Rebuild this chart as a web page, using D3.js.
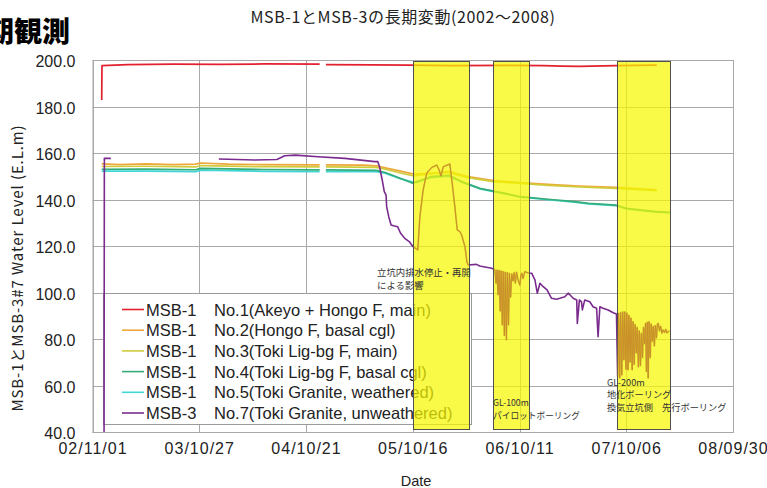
<!DOCTYPE html>
<html>
<head>
<meta charset="utf-8">
<script src="https://cdn.jsdelivr.net/npm/d3@7"></script>
<style>
  body { margin: 0; background: #fff; }
  svg { display: block; }
</style>
</head>
<body>
<svg id="chart" width="767" height="488"></svg>
<script>
// ---- data -------------------------------------------------------------
const tickDates  = ["2002-11-01", "2003-10-27", "2004-10-21", "2005-10-16", "2006-10-11", "2007-10-06", "2008-09-30"];
const tickLabels = ["02/11/01", "03/10/27", "04/10/21", "05/10/16", "06/10/11", "07/10/06", "08/09/30"];
const yTicks = [40, 60, 80, 100, 120, 140, 160, 180, 200];

const seriesNames = ["MSB-1", "MSB-1", "MSB-1", "MSB-1", "MSB-1", "MSB-3"];
const seriesDesc = [
  "No.1(Akeyo + Hongo F, main)",
  "No.2(Hongo F, basal cgl)",
  "No.3(Toki Lig-bg F, main)",
  "No.4(Toki Lig-bg F, basal cgl)",
  "No.5(Toki Granite, weathered)",
  "No.7(Toki Granite, unweathered)"
];

// work periods (shaded)
const bands = [
  ["2005-10-16", "2006-04-23"],
  ["2006-07-12", "2006-11-11"],
  ["2007-09-04", "2008-03-02"]
];

const no1 = [
  ["2002-12-02",182.8],["2002-12-03",197.6],["2003-03-01",198.0],["2003-08-01",198.2],["2004-01-01",198.1],
  ["2004-06-01",198.3],["2004-12-06",198.2],["2004-12-07",null],["2004-12-26",null],["2004-12-27",198.0],
  ["2005-06-01",197.9],["2005-10-01",197.8],["2006-03-01",197.6],["2006-09-01",197.7],["2007-01-01",197.6],
  ["2007-03-01",197.4],["2007-05-01",197.3],["2007-09-01",197.6],["2008-01-17",197.8]
];
const no2 = [
  ["2002-12-02",155.3],["2003-02-01",155.0],["2003-05-01",155.3],["2003-08-01",155.0],["2003-10-15",155.2],
  ["2003-11-01",155.7],["2004-02-01",155.2],["2004-06-01",155.0],["2004-12-06",154.9],["2004-12-07",null],
  ["2004-12-26",null],["2004-12-27",154.9],["2005-05-01",154.8],["2005-06-15",154.5],["2005-07-15",153.6],
  ["2005-09-01",152.3],["2005-10-16",151.0],["2005-11-15",151.0],["2006-01-01",151.5],["2006-02-15",152.0],
  ["2006-04-15",150.0],["2006-07-15",148.1],["2006-10-15",147.3],["2007-01-15",146.5],["2007-05-01",145.8],
  ["2007-09-01",145.2],["2008-01-17",144.1]
];
const no3 = [
  ["2002-12-02",154.2],["2003-05-01",154.3],["2003-10-15",154.0],["2003-11-01",154.6],["2004-06-01",154.1],
  ["2004-12-06",154.0],["2004-12-07",null],["2004-12-26",null],["2004-12-27",154.0],["2005-06-15",153.8],
  ["2005-07-15",153.0],["2005-09-01",151.5],["2005-10-16",150.2],["2005-11-15",150.6],["2006-01-01",151.2],
  ["2006-02-15",151.6],["2006-04-15",149.5],["2006-07-15",147.7],["2006-10-15",146.9],["2007-01-15",146.1],
  ["2007-05-01",145.4],["2007-09-01",144.8],["2008-01-17",143.8]
];
const no4 = [
  ["2002-12-02",153.0],["2003-05-01",153.1],["2003-10-15",152.8],["2003-11-01",153.4],["2004-06-01",152.9],
  ["2004-12-06",152.7],["2004-12-07",null],["2004-12-26",null],["2004-12-27",152.7],["2005-06-15",152.5],
  ["2005-07-15",151.6],["2005-08-15",150.1],["2005-10-16",147.0],["2005-10-30",147.7],["2005-12-15",149.8],
  ["2006-02-15",150.4],["2006-03-30",147.7],["2006-05-30",144.8],["2006-07-25",143.4],["2006-10-15",141.2],
  ["2007-01-15",140.1],["2007-04-15",139.1],["2007-06-01",138.3],["2007-09-01",137.6],["2007-10-05",136.2],
  ["2008-01-15",134.8],["2008-03-01",134.5]
];
const no5 = [
  ["2002-12-02",152.2],["2003-05-01",152.2],["2003-10-15",152.0],["2003-11-01",152.6],["2004-06-01",152.1],
  ["2004-12-06",152.0],["2004-12-07",null],["2004-12-26",null],["2004-12-27",152.0],["2005-06-15",152.0],
  ["2005-07-15",151.3],["2005-09-01",149.1],["2005-10-16",147.5],["2005-10-30",147.3],["2005-12-15",149.4],
  ["2006-02-15",150.0],["2006-03-30",147.4],["2006-05-30",144.6],["2006-07-25",143.2],["2006-10-15",141.0],
  ["2007-01-15",139.9],["2007-04-15",138.9],["2007-06-01",138.1],["2007-09-01",137.4],["2007-10-05",136.0],
  ["2008-01-15",134.6],["2008-03-01",134.3]
];
const no7 = [
  ["2002-12-10",40.0],["2002-12-11",157.7],["2003-01-02",157.7],["2003-01-03",null],["2003-12-31",null],
  ["2004-01-01",157.4],["2004-03-01",157.2],["2004-05-01",157.0],["2004-07-15",157.2],["2004-08-10",158.8],
  ["2004-09-15",159.1],["2004-12-01",158.4],["2005-03-01",157.7],["2005-06-10",156.3],["2005-06-20",156.3],
  ["2005-06-26",154.1],["2005-07-05",148.4],["2005-07-12",143.4],["2005-07-18",141.9],["2005-07-20",136.9],
  ["2005-07-27",132.6],["2005-08-04",129.0],["2005-08-15",128.6],["2005-08-26",128.3],["2005-09-05",125.5],
  ["2005-09-19",123.3],["2005-10-04",121.9],["2005-10-17",119.7],
  // pumping stop / restart
  ["2005-11-02",118.3],["2005-11-09",132.6],["2005-11-20",144.0],["2005-12-02",151.3],["2005-12-19",153.8],
  ["2006-01-05",154.8],["2006-01-13",152.7],["2006-01-19",150.1],["2006-01-27",154.1],["2006-02-18",155.3],
  ["2006-02-26",147.0],["2006-03-07",136.9],["2006-03-15",126.9],["2006-03-24",126.2],["2006-03-30",124.7],
  ["2006-04-10",119.7],["2006-04-17",113.0],
  ["2006-04-21",111.8],["2006-05-19",112.1],["2006-05-30",111.4],["2006-07-09",110.4],
  // GL-100m pilot boring
  ["2006-07-13",110.2],["2006-07-20",109.8],["2006-07-24",104.0],["2006-07-27",109.7],["2006-07-31",99.0],
  ["2006-08-03",109.5],["2006-08-07",92.0],["2006-08-10",109.3],["2006-08-14",86.0],["2006-08-17",109.0],
  ["2006-08-21",81.5],["2006-08-24",108.8],["2006-08-28",79.6],["2006-08-31",108.6],["2006-09-04",86.0],
  ["2006-09-07",108.3],["2006-09-11",98.0],["2006-09-15",108.0],["2006-09-19",105.0],["2006-09-23",108.6],
  ["2006-09-27",104.0],["2006-10-01",108.8],["2006-10-06",105.5],["2006-10-12",103.2],["2006-10-16",107.5],
  ["2006-10-19",108.3],["2006-10-23",106.0],["2006-10-29",109.0],["2006-11-05",108.6],["2006-11-10",108.4],
  ["2006-11-21",108.3],["2006-12-02",105.4],["2006-12-10",99.7],["2006-12-19",104.0],["2006-12-30",102.5],
  ["2007-01-12",101.1],["2007-01-21",98.9],["2007-01-27",97.5],["2007-02-13",97.1],["2007-02-24",97.5],
  ["2007-03-13",98.2],["2007-03-24",99.7],["2007-03-30",99.0],["2007-04-10",97.5],["2007-04-22",96.8],
  ["2007-04-24",86.7],["2007-05-01",96.8],["2007-05-08",96.0],["2007-05-11",92.5],["2007-05-19",96.8],
  ["2007-06-05",96.0],["2007-06-16",93.9],["2007-06-28",93.2],["2007-07-03",81.0],["2007-07-09",93.9],
  ["2007-07-20",93.2],["2007-08-06",92.5],["2007-08-23",91.3],["2007-09-03",90.8],
  // GL-200m boring
  ["2007-09-07",64.0],["2007-09-10",91.1],["2007-09-14",63.2],["2007-09-17",91.4],["2007-09-21",64.5],
  ["2007-09-24",91.7],["2007-09-28",71.0],["2007-10-01",91.7],["2007-10-05",67.0],["2007-10-08",91.2],
  ["2007-10-12",66.7],["2007-10-15",90.2],["2007-10-19",70.0],["2007-10-22",89.0],["2007-10-26",66.7],
  ["2007-10-29",87.5],["2007-11-02",69.0],["2007-11-05",86.2],["2007-11-09",74.0],["2007-11-12",85.0],
  ["2007-11-16",68.0],["2007-11-19",83.5],["2007-11-23",68.5],["2007-11-26",82.4],["2007-11-30",72.0],
  ["2007-12-03",85.0],["2007-12-07",78.0],["2007-12-10",86.7],["2007-12-13",66.0],["2007-12-16",87.2],
  ["2007-12-19",63.2],["2007-12-22",87.5],["2007-12-26",72.0],["2007-12-29",86.5],["2008-01-02",79.0],
  ["2008-01-05",85.5],["2008-01-09",77.0],["2008-01-12",85.8],["2008-01-16",80.5],["2008-01-19",86.4],
  ["2008-01-22",86.7],["2008-01-26",83.5],["2008-01-30",85.5],["2008-02-03",82.5],["2008-02-07",83.9],
  ["2008-02-12",82.8],["2008-02-16",84.2],["2008-02-20",82.6],["2008-02-24",83.1],["2008-02-28",83.5]
];

const seriesData = [no1, no2, no3, no4, no5, no7];
const seriesColors = ["#e3202e", "#eea83a", "#cfcc3c", "#36ac78", "#3fd6d6", "#7a2b8e"];
// drawing order: cyan under green, purple last
const drawOrder = [0, 1, 2, 4, 3, 5];

// ---- layout -----------------------------------------------------------
const parse = d3.timeParse("%Y-%m-%d");
const svg = d3.select("#chart");
const W = 767, H = 488;
const plot = { left: 92.5, right: 733, top: 60, bottom: 432 };

const x = d3.scaleTime()
  .domain([parse(tickDates[0]), parse(tickDates[tickDates.length - 1])])
  .range([plot.left, plot.right]);
const y = d3.scaleLinear().domain([40, 200]).range([plot.bottom, plot.top]);

const gridColor = "#a9a9a9";
const latin = "'Liberation Sans', Arial, sans-serif";
const cjk = "'Noto Sans CJK JP', 'Noto Sans', sans-serif";

svg.append("rect").attr("width", W).attr("height", H).attr("fill", "#fff");

// title and heading
svg.append("text")
  .attr("x", 70).attr("y", 42)
  .attr("text-anchor", "end")
  .attr("font-family", cjk).attr("font-weight", 900).attr("font-size", 28)
  .attr("fill", "#000")
  .text("長期観測");

svg.append("text")
  .attr("x", 403).attr("y", 23)
  .attr("text-anchor", "middle")
  .attr("font-family", cjk).attr("font-size", 16).attr("letter-spacing", 0.6)
  .attr("fill", "#222")
  .text("MSB-1とMSB-3の長期変動(2002～2008)");

// grid
const grid = svg.append("g");
grid.selectAll("line.h").data(yTicks).join("line")
  .attr("x1", plot.left).attr("x2", plot.right)
  .attr("y1", d => Math.round(y(d)) + 0.5).attr("y2", d => Math.round(y(d)) + 0.5)
  .attr("stroke", gridColor).attr("stroke-width", 1);
grid.selectAll("line.v").data(tickDates).join("line")
  .attr("x1", d => Math.round(x(parse(d))) + 0.5).attr("x2", d => Math.round(x(parse(d))) + 0.5)
  .attr("y1", plot.top).attr("y2", plot.bottom)
  .attr("stroke", gridColor).attr("stroke-width", 1);

// axes
const yAxis = d3.axisLeft(y).tickValues(yTicks).tickFormat(d3.format(".1f")).tickSize(0).tickPadding(0);
svg.append("g")
  .attr("transform", `translate(${plot.left - 17},1.5)`)
  .call(yAxis)
  .call(g => g.select(".domain").remove())
  .call(g => g.selectAll("text").attr("font-family", latin).attr("font-size", 16).attr("fill", "#222"));

const xAxis = d3.axisBottom(x)
  .tickValues(tickDates.map(parse))
  .tickFormat((d, i) => tickLabels[i])
  .tickSize(0).tickPadding(0);
svg.append("g")
  .attr("transform", `translate(0,${plot.bottom + 11})`)
  .call(xAxis)
  .call(g => g.select(".domain").remove())
  .call(g => g.selectAll("text").attr("font-family", latin).attr("font-size", 16)
    .attr("letter-spacing", 1).attr("fill", "#222"));

// axis titles
svg.append("text")
  .attr("transform", "translate(23,268) rotate(-90)")
  .attr("text-anchor", "middle")
  .attr("font-family", cjk).attr("font-size", 15).attr("letter-spacing", 0.9)
  .attr("fill", "#222")
  .text("MSB-1とMSB-3#7  Water Level (E.L.m)");

svg.append("text")
  .attr("x", 416).attr("y", 486)
  .attr("text-anchor", "middle")
  .attr("font-family", latin).attr("font-size", 14.5)
  .attr("fill", "#222")
  .text("Date");

// legend frame (under the shaded periods)
const leg = { left: 103, right: 471, top: 293, bottom: 424, row0: 309.5, step: 20.7 };
svg.append("rect")
  .attr("x", leg.left + 0.5).attr("y", leg.top + 0.5)
  .attr("width", leg.right - leg.left).attr("height", leg.bottom - leg.top)
  .attr("fill", "#fff").attr("stroke", "#9a9a9a");

// series
const line = d3.line()
  .defined(d => d[1] != null)
  .x(d => x(parse(d[0])))
  .y(d => y(d[1]));

const lines = svg.append("g").attr("fill", "none").attr("stroke-linejoin", "round");
drawOrder.forEach(i => {
  lines.append("path")
    .attr("d", line(seriesData[i]))
    .attr("stroke", seriesColors[i])
    .attr("stroke-width", i === 5 ? 1.6 : 1.7);
});

// legend entries
const legendRows = svg.append("g");
seriesNames.forEach((name, i) => {
  const cy = leg.row0 + i * leg.step;
  legendRows.append("line")
    .attr("x1", 122).attr("x2", 144).attr("y1", cy).attr("y2", cy)
    .attr("stroke", seriesColors[i]).attr("stroke-width", 1.6);
  legendRows.append("text")
    .attr("x", 146).attr("y", cy + 6)
    .attr("font-family", latin).attr("font-size", 16.5).attr("fill", "#222")
    .text(name);
  legendRows.append("text")
    .attr("x", 214).attr("y", cy + 6)
    .attr("font-family", latin).attr("font-size", 16.5).attr("fill", "#222")
    .text(seriesDesc[i]);
});

// shaded work periods
const bandTop = y(199.6), bandBottom = y(41.2);
svg.append("g").selectAll("rect").data(bands).join("rect")
  .attr("x", d => Math.round(x(parse(d[0]))) + 0.5)
  .attr("width", d => Math.round(x(parse(d[1]))) - Math.round(x(parse(d[0]))))
  .attr("y", Math.round(bandTop) + 0.5)
  .attr("height", Math.round(bandBottom) - Math.round(bandTop))
  .attr("fill", "#f6f600").attr("fill-opacity", 0.72)
  .attr("stroke", "#505050").attr("stroke-width", 1);

// No.7 record inside the shaded periods
const clip = svg.append("defs").append("clipPath").attr("id", "bandClip");
clip.selectAll("rect").data(bands).join("rect")
  .attr("x", d => x(parse(d[0])) + 1)
  .attr("width", d => x(parse(d[1])) - x(parse(d[0])) - 1)
  .attr("y", bandTop).attr("height", bandBottom - bandTop);
svg.append("path")
  .attr("d", line(no7))
  .attr("clip-path", "url(#bandClip)")
  .attr("fill", "none")
  .attr("stroke", "#c98a2c").attr("stroke-width", 0.9).attr("stroke-linejoin", "round");

// annotations
const notes = svg.append("g")
  .attr("font-family", cjk).attr("fill", "#333");
notes.append("text").attr("x", 377).attr("y", 276).attr("font-size", 9.4).text("立坑内排水停止・再開");
notes.append("text").attr("x", 377).attr("y", 288.5).attr("font-size", 9.4).text("による影響");
notes.append("text").attr("x", 493).attr("y", 406).attr("font-size", 8.7).text("GL-100m");
notes.append("text").attr("x", 493).attr("y", 418.5).attr("font-size", 8.7).text("パイロットボーリング");
notes.append("text").attr("x", 607).attr("y", 385.5).attr("font-size", 9.2).text("GL-200m");
notes.append("text").attr("x", 607).attr("y", 398).attr("font-size", 9.2).text("地化ボーリング");
notes.append("text").attr("x", 607).attr("y", 410.5).attr("font-size", 9.2).text("換気立坑側　先行ボーリング");

// plot frame
svg.append("rect")
  .attr("x", plot.left + 0.5).attr("y", plot.top + 0.5)
  .attr("width", plot.right - plot.left).attr("height", plot.bottom - plot.top)
  .attr("fill", "none").attr("stroke", gridColor);
</script>
</body>
</html>
